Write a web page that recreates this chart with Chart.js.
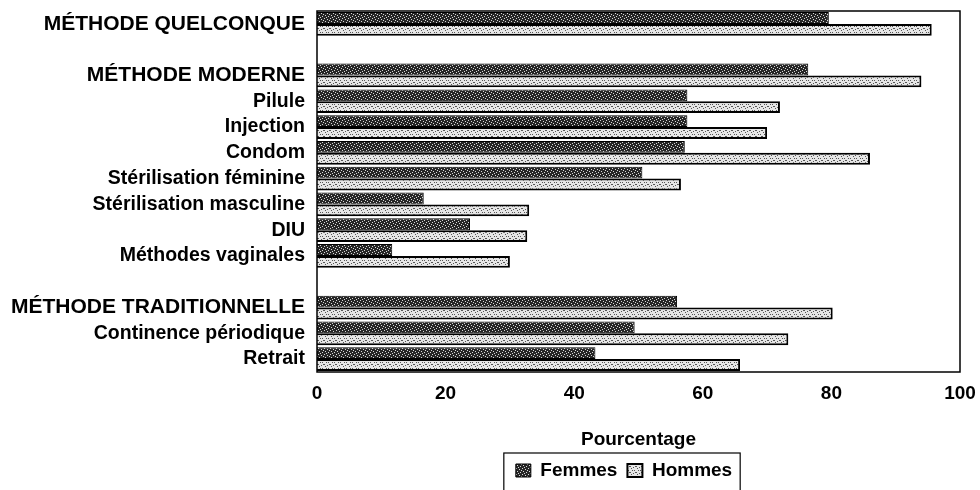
<!DOCTYPE html>
<html><head><meta charset="utf-8">
<script src="https://cdn.jsdelivr.net/npm/chart.js@4.4.1/dist/chart.umd.min.js"></script>
<style>html,body{margin:0;padding:0;background:#fff;}#wrap{width:980px;height:490px;}</style>
</head><body><div id="wrap"><canvas id="c" width="980" height="490"></canvas></div>
<script>
const categories = ['MÉTHODE QUELCONQUE','', 'MÉTHODE MODERNE','Pilule','Injection','Condom','Stérilisation féminine','Stérilisation masculine','DIU','Méthodes vaginales','', 'MÉTHODE TRADITIONNELLE','Continence périodique','Retrait'];
const femmes = [79.6,null,76.4,57.6,57.6,57.2,50.6,16.6,23.8,11.7,null,56.0,49.4,43.3];
const hommes = [95.6,null,94.0,72.0,70.0,86.0,56.6,33.0,32.7,30.0,null,80.2,73.3,65.8];
const xTicks = [0,20,40,60,80,100];
const seriesNames = ['Femmes','Hommes'];

function makePattern(bg, fg, dots){
  const p = document.createElement('canvas'); p.width = 6; p.height = 6;
  const g = p.getContext('2d'); g.fillStyle = bg; g.fillRect(0,0,6,6);
  g.fillStyle = fg; dots.forEach(d=>g.fillRect(d[0],d[1],1,1));
  return g.createPattern(p,'repeat');
}
const ctx = document.getElementById('c').getContext('2d');
const patF = makePattern('#262626','#d8d8d8',[[0,0],[3,1],[1,3],[4,4],[2,5],[5,2]]);
const patH = makePattern('#e6e6e6','#555',[[1,0],[4,2],[0,4],[3,5],[5,4],[2,2]]);

const FONT = "'Liberation Sans', Arial, sans-serif";
const LEGEND_CENTER_X = 624;
const frame = {
  id:'frame',
  beforeDraw(chart){
    const lg = chart.legend, hb = lg.legendHitBoxes;
    if (hb && hb.length && !lg._shifted){
      const l = Math.min(...hb.map(h=>h.left));
      const r = Math.max(...hb.map(h=>h.left+h.width));
      const dx = LEGEND_CENTER_X - (l+r)/2;
      const tops = hb.map(h=>h.top);
      lg.left += dx; lg.right += dx;
      lg.adjustHitBoxes();
      hb.forEach((h,i)=>{ h.top = tops[i]; });
      lg._shifted = true;
    }
  },
  afterDraw(chart){
    const a = chart.chartArea, c = chart.ctx;
    c.save(); c.strokeStyle='#000'; c.lineWidth=1.5;
    c.strokeRect(a.left, a.top, a.right-a.left, a.bottom-a.top);
    const hb = chart.legend.legendHitBoxes;
    if (hb && hb.length){
      const l = Math.min(...hb.map(h=>h.left))-12;
      const r = Math.max(...hb.map(h=>h.left+h.width))+8;
      const t = Math.min(...hb.map(h=>h.top))-8;
      c.lineWidth=1.2; c.strokeRect(l, t, r-l, 60);
    }
    c.restore();
  }
};

new Chart(ctx, {
  type:'bar',
  data:{
    labels: categories,
    datasets:[
      {label:seriesNames[0], data:femmes, backgroundColor:patF, borderColor:'#000', borderWidth:1, borderSkipped:'start'},
      {label:seriesNames[1], data:hommes, backgroundColor:patH, borderColor:'#000', borderWidth:2, borderSkipped:'start'}
    ]
  },
  options:{
    indexAxis:'y', responsive:false, animation:false,
    layout:{padding:{left:0,right:20,top:11,bottom:0}},
    categoryPercentage:0.92, barPercentage:1.0,
    scales:{
      x:{min:0,max:100,
        afterBuildTicks(s){ s.ticks = xTicks.map(v=>({value:v})); },
        afterFit(s){ s.height = 79; s.paddingLeft = 0; s.paddingRight = 0; },
        grid:{display:false, drawTicks:false},
        border:{display:false},
        ticks:{color:'#000', padding:10, font:{family:FONT, size:19, weight:'bold'}},
        title:{display:true, text:'Pourcentage', color:'#000', padding:{top:6,bottom:0}, font:{family:FONT, size:19, weight:'bold'}}
      },
      y:{
        afterFit(s){ s.width = 317; s.paddingTop = 0; s.paddingBottom = 0; },
        grid:{display:false, drawTicks:false},
        border:{display:false},
        ticks:{color:'#000', padding:12, autoSkip:false,
          font:(c)=>({family:FONT, size: /^MÉTHODE /.test(categories[c.index]||'') ? 21 : 19.5, weight:'bold'})}
      }
    },
    plugins:{
      legend:{position:'bottom', labels:{color:'#000', boxWidth:15, boxHeight:13, padding:10, font:{family:FONT, size:19, weight:'bold'}}},
      tooltip:{enabled:false}
    }
  },
  plugins:[frame]
});
</script></body></html>
